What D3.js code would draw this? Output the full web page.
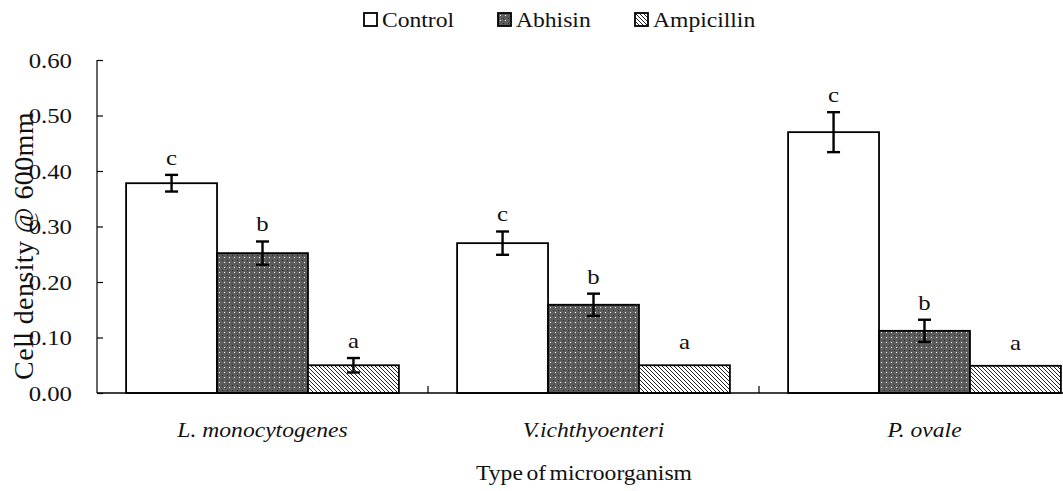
<!DOCTYPE html>
<meta charset="utf-8">
<style>
  body { margin: 0; background: #fff; }
  text { font-family: "Liberation Serif", "Times New Roman", serif; fill: #111; }
</style>
<body>
<script src="https://cdn.jsdelivr.net/npm/d3@7"></script>
<script>

var categories = ["L. monocytogenes", "V.ichthyoenteri", "P. ovale"];
var series = ["Control", "Abhisin", "Ampicillin"];
var control = [0.378, 0.270, 0.470];
var abhisin = [0.252, 0.159, 0.112];
var ampicillin = [0.050, 0.050, 0.049];
var controlErr = [0.015, 0.021, 0.036];
var abhisinErr = [0.021, 0.020, 0.020];
var ampicillinErr = [0.013, 0, 0];
var controlLetters = ["c", "c", "c"];
var abhisinLetters = ["b", "b", "b"];
var ampicillinLetters = ["a", "a", "a"];
var yTicks = [0, 0.1, 0.2, 0.3, 0.4, 0.5, 0.6];

var width = 1063, height = 491;
var mLeft = 97, mRight = 1090, mTop = 60, mBottom = 393;
var stretchX = 1.18; // the reference type looks widened

var svg = d3.select("body").append("svg")
    .attr("width", width)
    .attr("height", height);

// fill patterns
var defs = svg.append("defs");
var dots = defs.append("pattern")
    .attr("id", "dots")
    .attr("patternUnits", "userSpaceOnUse")
    .attr("width", 5).attr("height", 5);
dots.append("rect").attr("width", 5).attr("height", 5).attr("fill", "#5c5c5c");
dots.append("rect").attr("x", 2).attr("y", 2).attr("width", 1).attr("height", 1).attr("fill", "#fff");
dots.append("rect").attr("x", 0).attr("y", 0).attr("width", 1).attr("height", 1).attr("fill", "#2a2a2a");

var hatch = defs.append("pattern")
    .attr("id", "hatch")
    .attr("patternUnits", "userSpaceOnUse")
    .attr("width", 4).attr("height", 4);
hatch.append("rect").attr("width", 4).attr("height", 4).attr("fill", "#fff");
hatch.append("path").attr("d", "M-1,-1 L5,5 M-1,3 L1,5 M3,-1 L5,1")
    .attr("stroke", "#222").attr("stroke-width", 1);

var fills = ["#fff", "url(#dots)", "url(#hatch)"];

var data = categories.map(function(c, i) {
  return [
    {cat: c, s: 0, v: control[i], e: controlErr[i], l: controlLetters[i]},
    {cat: c, s: 1, v: abhisin[i], e: abhisinErr[i], l: abhisinLetters[i]},
    {cat: c, s: 2, v: ampicillin[i], e: ampicillinErr[i], l: ampicillinLetters[i]}
  ];
});

var x = d3.scaleBand().domain(categories).range([mLeft, mRight]);
var xs = d3.scaleBand().domain([0, 1, 2]).range([0, x.bandwidth()]).paddingOuter(0.32).paddingInner(0);
var y = d3.scaleLinear().domain([0, 0.6]).range([mBottom, mTop]);

// y axis
var yAxis = svg.append("g")
    .attr("transform", "translate(" + mLeft + ",0)")
    .call(d3.axisLeft(y).tickValues(yTicks).tickSize(-6).tickPadding(25).tickFormat(d3.format(".2f")));
yAxis.select(".domain").attr("d", "M0," + mTop + "V" + mBottom).attr("stroke", "#000").attr("stroke-width", 1.2);
yAxis.selectAll("text").style("font-size", "21px").attr("dy", "0.35em").attr("font-family", null);
yAxis.selectAll(".tick line").attr("stroke", "#000").attr("stroke-width", 1.2);

// bars
var groups = svg.selectAll("g.grp").data(data).enter().append("g")
    .attr("class", "grp")
    .attr("transform", function(d) { return "translate(" + x(d[0].cat) + ",0)"; });

groups.selectAll("rect").data(function(d) { return d; }).enter().append("rect")
    .attr("x", function(d) { return xs(d.s); })
    .attr("y", function(d) { return y(d.v); })
    .attr("width", xs.bandwidth())
    .attr("height", function(d) { return y(0) - y(d.v); })
    .attr("fill", function(d) { return fills[d.s]; })
    .attr("stroke", "#000")
    .attr("stroke-width", 1.8);

// error bars
var eb = groups.selectAll("g.err").data(function(d) { return d.filter(function(e) { return e.e > 0; }); })
  .enter().append("g").attr("class", "err")
    .attr("stroke", "#000").attr("stroke-width", 2.4);
function cx(d) { return xs(d.s) + xs.bandwidth() / 2; }
eb.append("line")
    .attr("x1", cx).attr("x2", cx)
    .attr("y1", function(d) { return y(d.v + d.e); })
    .attr("y2", function(d) { return y(d.v - d.e); });
[1, -1].forEach(function(sgn) {
  eb.append("line")
      .attr("x1", function(d) { return cx(d) - 6.5; })
      .attr("x2", function(d) { return cx(d) + 6.5; })
      .attr("y1", function(d) { return y(d.v + sgn * d.e); })
      .attr("y2", function(d) { return y(d.v + sgn * d.e); });
});

// significance letters
groups.selectAll("text.let").data(function(d) { return d; }).enter().append("text")
    .attr("class", "let")
    .attr("x", cx)
    .attr("y", function(d) { return y(d.v + d.e) - (d.e > 0 ? 10 : 16); })
    .attr("text-anchor", "middle")
    .style("font-size", "21px")
    .text(function(d) { return d.l; });

// x axis
svg.append("line")
    .attr("x1", mLeft).attr("x2", width)
    .attr("y1", mBottom).attr("y2", mBottom)
    .attr("stroke", "#000").attr("stroke-width", 1.4);
svg.selectAll("line.xt").data(categories.slice(1)).enter().append("line")
    .attr("class", "xt")
    .attr("x1", function(d) { return x(d); }).attr("x2", function(d) { return x(d); })
    .attr("y1", mBottom).attr("y2", mBottom - 7)
    .attr("stroke", "#000").attr("stroke-width", 1.2);

svg.selectAll("text.cat").data(categories).enter().append("text")
    .attr("class", "cat")
    .attr("x", function(d) { return x(d) + x.bandwidth() / 2; })
    .attr("y", 437)
    .attr("text-anchor", "middle")
    .style("font-size", "20px")
    .style("font-style", "italic")
    .text(function(d) { return d; });

svg.append("text")
    .attr("x", 584).attr("y", 480)
    .attr("text-anchor", "middle")
    .style("font-size", "20px")
    .style("word-spacing", "-2px")
    .text("Type of microorganism");

// legend
var legX = [364, 498, 635];
var leg = svg.selectAll("g.leg").data(series).enter().append("g")
    .attr("class", "leg")
    .attr("transform", function(d, i) { return "translate(" + legX[i] + ",13)"; });
leg.append("rect")
    .attr("width", 13).attr("height", 13)
    .attr("fill", function(d, i) { return fills[i]; })
    .attr("stroke", "#000").attr("stroke-width", 1.8);
leg.append("text")
    .attr("x", 18).attr("y", 14)
    .style("font-size", "20px")
    .text(function(d) { return d; });

// widen every horizontal text like the reference
svg.selectAll("text").each(function() {
  var t = d3.select(this),
      tx = +t.attr("x") || 0,
      ty = +t.attr("y") || 0;
  t.attr("x", 0).attr("y", 0)
   .attr("transform", "translate(" + tx + "," + ty + ") scale(" + stretchX + ",1)");
});

// y title, rotated
svg.append("text")
    .attr("transform", "translate(33,246) rotate(-90)")
    .attr("text-anchor", "middle")
    .style("font-size", "28px")
    .style("letter-spacing", "0.4px")
    .text("Cell density @ 600mm");

</script>
